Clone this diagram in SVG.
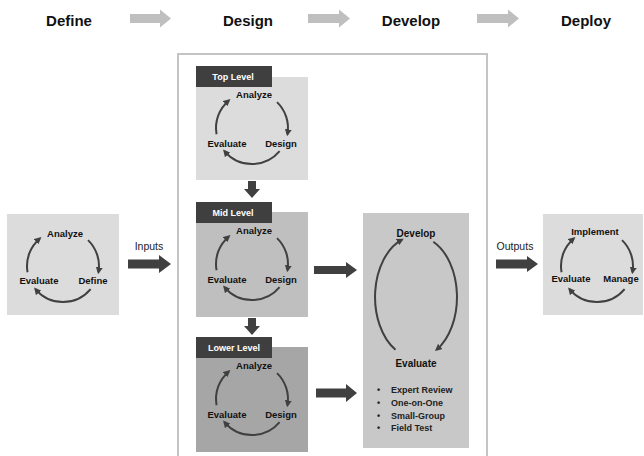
<svg xmlns="http://www.w3.org/2000/svg" xmlns:xlink="http://www.w3.org/1999/xlink" width="644" height="456" viewBox="0 0 644 456">
<style>
  .phase { font-family: "Liberation Sans", Arial, sans-serif; font-weight: bold; font-size: 15px; fill: #111; text-anchor: middle; }
  .lbl { font-family: "Liberation Sans", Arial, sans-serif; font-weight: bold; font-size: 9.5px; fill: #111; text-anchor: middle; }
  .big { font-family: "Liberation Sans", Arial, sans-serif; font-weight: bold; font-size: 10px; fill: #111; text-anchor: middle; }
  .hdr { font-family: "Liberation Sans", Arial, sans-serif; font-weight: bold; font-size: 9px; fill: #fff; text-anchor: middle; }
  .io { font-family: "Liberation Sans", Arial, sans-serif; font-size: 10.5px; fill: #222; text-anchor: middle; }
  .bul { font-family: "Liberation Sans", Arial, sans-serif; font-weight: bold; font-size: 9px; fill: #222; }
  .arc { fill: none; stroke: #404040; stroke-width: 2; marker-end: url(#ah); }
  .hbar { fill: #404040; }
  .gbar { fill: #bfbfbf; }
  .hdrbox { fill: #3f3f3f; }
</style>
<defs>
  <marker id="ah" markerUnits="userSpaceOnUse" markerWidth="7" markerHeight="7" viewBox="0 0 7 7" refX="5" refY="3.5" orient="auto">
    <path d="M0,0 L7,3.5 L0,7 z" fill="#404040"/>
  </marker>
  <g id="cycle">
    <path class="arc" d="M25,-25.9 A36 36 0 0 1 35.45,6.25"/>
    <path class="arc" d="M27.6,23.1 A36 36 0 0 1 -27.6,23.1"/>
    <path class="arc" d="M-35.45,6.25 A36 36 0 0 1 -23.1,-27.6"/>
  </g>
</defs>
<rect width="644" height="456" fill="#fff"/>

<g id="phases">
  <text class="phase" x="69" y="26">Define</text>
  <text class="phase" x="248" y="26">Design</text>
  <text class="phase" x="411" y="26">Develop</text>
  <text class="phase" x="586" y="26">Deploy</text>
</g>

<g id="design-frame">
  <rect x="178" y="54" width="309" height="420" fill="none" stroke="#c4c4c4" stroke-width="2"/>
</g>

<g id="define-node">
  <rect x="7" y="214" width="112" height="101" fill="#dcdcdc"/>
  <use xlink:href="#cycle" x="63" y="266"/>
  <text class="lbl" x="65" y="237">Analyze</text>
  <text class="lbl" x="39" y="284">Evaluate</text>
  <text class="lbl" x="93" y="284">Define</text>
</g>

<g id="top-level">
  <rect x="196" y="77" width="112" height="103" fill="#dcdcdc"/>
  <rect class="hdrbox" x="196" y="66" width="76" height="21"/>
  <text class="hdr" x="233" y="80">Top Level</text>
  <use xlink:href="#cycle" x="252" y="128"/>
  <text class="lbl" x="254" y="98">Analyze</text>
  <text class="lbl" x="227" y="147">Evaluate</text>
  <text class="lbl" x="281" y="147">Design</text>
</g>

<g id="mid-level">
  <rect x="196" y="212" width="112" height="105" fill="#bfbfbf"/>
  <rect class="hdrbox" x="196" y="202" width="76" height="21"/>
  <text class="hdr" x="233" y="216">Mid Level</text>
  <use xlink:href="#cycle" x="252" y="264"/>
  <text class="lbl" x="254" y="234">Analyze</text>
  <text class="lbl" x="227" y="283">Evaluate</text>
  <text class="lbl" x="281" y="283">Design</text>
</g>

<g id="lower-level">
  <rect x="196" y="347" width="112" height="105" fill="#a6a6a6"/>
  <rect class="hdrbox" x="196" y="337" width="76" height="21"/>
  <text class="hdr" x="234" y="351">Lower Level</text>
  <use xlink:href="#cycle" x="252" y="399"/>
  <text class="lbl" x="254" y="369">Analyze</text>
  <text class="lbl" x="227" y="418">Evaluate</text>
  <text class="lbl" x="281" y="418">Design</text>
</g>

<g id="develop-node">
  <rect x="363" y="213" width="106" height="235" fill="#c8c8c8"/>
  <path class="arc" d="M395.5,349.8 A41 61 0 0 1 402,239.7"/>
  <path class="arc" d="M433.3,241.7 A41 61 0 0 1 436.5,349.8"/>
  <text class="big" x="416" y="237">Develop</text>
  <text class="big" x="416" y="367">Evaluate</text>
  <text class="bul" x="377" y="393">•</text>
  <text class="bul" x="391" y="393">Expert Review</text>
  <text class="bul" x="377" y="406">•</text>
  <text class="bul" x="391" y="406">One-on-One</text>
  <text class="bul" x="377" y="419">•</text>
  <text class="bul" x="391" y="419">Small-Group</text>
  <text class="bul" x="377" y="431">•</text>
  <text class="bul" x="391" y="431">Field Test</text>
</g>

<g id="deploy-node">
  <rect x="543" y="214" width="100" height="101" fill="#dcdcdc"/>
  <use xlink:href="#cycle" x="597" y="266"/>
  <text class="lbl" x="595" y="235">Implement</text>
  <text class="lbl" x="571" y="282">Evaluate</text>
  <text class="lbl" x="621" y="282">Manage</text>
</g>

<g id="connectors">
  <polygon class="gbar" points="130,14 160,14 160,9.5 171,18.5 160,27.5 160,23 130,23"/>
  <polygon class="gbar" points="308,14 339,14 339,9.5 350,18.5 339,27.5 339,23 308,23"/>
  <polygon class="gbar" points="477,14 508,14 508,9.5 519,18.5 508,27.5 508,23 477,23"/>
  <polygon class="hbar" points="128,259.5 159,259.5 159,255 171,264 159,273 159,268.5 128,268.5"/>
  <polygon class="hbar" points="314,266 346,266 346,262 357,270 346,278 346,274 314,274"/>
  <polygon class="hbar" points="316,388.5 346,388.5 346,384 357,393 346,402 346,397.5 316,397.5"/>
  <polygon class="hbar" points="496,259.5 527,259.5 527,256 538,264 527,272 527,268.5 496,268.5"/>
  <polygon class="hbar" points="248,181 256,181 256,189 260,189 252,198 244,189 248,189"/>
  <polygon class="hbar" points="248,318 256,318 256,326 260,326 252,335 244,326 248,326"/>
  <text class="io" x="149" y="250">Inputs</text>
  <text class="io" x="515" y="250">Outputs</text>
</g>
</svg>
